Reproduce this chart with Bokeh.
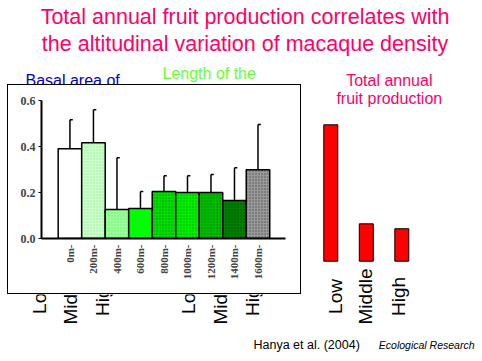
from math import pi
from bokeh.plotting import figure
from bokeh.models import Range1d, FixedTicker, ColumnDataSource, PrintfTickFormatter
from bokeh.layouts import column, row
from bokeh.embed import file_html
from bokeh.resources import INLINE
from bokeh.core.properties import value

# ---------------- data ----------------
altitudes = ["0m-", "200m-", "400m-", "600m-", "800m-", "1000m-", "1200m-", "1400m-", "1600m-"]
basal_mean = [0.390, 0.416, 0.126, 0.130, 0.204, 0.200, 0.200, 0.165, 0.299]
basal_sd = [0.126, 0.144, 0.225, 0.074, 0.069, 0.073, 0.078, 0.143, 0.197]
y_ticks = [0.0, 0.2, 0.4, 0.6]
zones = ["Low", "Middle", "High"]
fruit = [1.00, 0.274, 0.238]

title_lines = ["Total annual fruit production correlates with",
               "the altitudinal variation of macaque density"]
panel_titles = ["Basal area of", "Length of the"]
fruit_title = ["Total annual", "fruit production"]
citation = "Hanya et al. (2004)"
journal = "Ecological Research"

# ---------------- styles ----------------
PINK = "#FF0066"
SANS = value("Liberation Sans")
SERIF = "Liberation Serif"
bar_fill = ["#FFFFFF", "#CCFFCC", "#99FF99", "#00FF00", "#00DD00",
            "#00EE00", "#00BB00", "#008000", "#999999"]
bar_hatch = [" ", ".", ".", " ", ".", ".", ".", ".", "."]
bar_hatch_col = ["#FFFFFF", "#99EE99", "#77EE77", "#00FF00", "#009900",
                 "#00AA00", "#008800", "#005000", "#555555"]


def canvas(w, h):
    f = figure(width=w, height=h, x_range=Range1d(0, w), y_range=Range1d(h, 0),
               min_border=0, x_axis_type=None, y_axis_type=None,
               toolbar_location=None, output_backend="svg",
               outline_line_color=None, background_fill_color="white",
               border_fill_color="white")
    f.grid.visible = False
    return f


def blackline(w, h):
    f = figure(width=w, height=h, min_border=0, x_axis_type=None, y_axis_type=None,
               toolbar_location=None, output_backend="svg", outline_line_color=None,
               background_fill_color="black", border_fill_color="black",
               styles={"background-color": "black"})
    f.grid.visible = False
    return f


# ---------------- title (y 0..62) ----------------
title_fig = canvas(482, 63)
title_fig.text(x=[244.5, 244.5], y=[16.8, 43], text=title_lines,
               text_align="center", text_baseline="middle",
               text_font=SANS, text_font_size="21.5px", text_color=PINK)

# ---------------- panel titles above box (y 63..83) ----------------
sub_top = canvas(301, 21)
sub_top.text(x=[25], y=[16.5], text=[panel_titles[0]], text_align="left",
             text_baseline="middle", text_font=SANS, text_font_size="16px",
             text_color="#0000CC")
sub_top.text(x=[162], y=[9.5], text=[panel_titles[1]], text_align="left",
             text_baseline="middle", text_font=SANS, text_font_size="16px",
             text_color="#66FF33")

# ---------------- inner bar chart (x 8..299, y 85..292) ----------------
n = len(altitudes)
xs = list(range(n))
upper = [m + s for m, s in zip(basal_mean, basal_sd)]
src = ColumnDataSource(dict(x=xs, top=basal_mean, upper=upper,
                            xc=[x + 0.12 for x in xs], fill=bar_fill,
                            hpat=bar_hatch, hcol=bar_hatch_col))

inner = figure(width=292, height=208, x_range=Range1d(-1.21, 9.17), y_range=Range1d(0, 0.6),
               min_border_left=33, min_border_right=15, min_border_top=15,
               min_border_bottom=55, toolbar_location=None, output_backend="svg",
               outline_line_color=None, background_fill_color="white",
               border_fill_color="white")
inner.grid.visible = False
inner.vbar(x="x", top="top", bottom=0, width=1, source=src, fill_color="fill",
           line_color="black", line_width=1.5, hatch_pattern="hpat",
           hatch_color="hcol", hatch_scale=3, hatch_weight=1)
inner.segment(x0="x", y0="top", x1="x", y1="upper", source=src,
              line_color="black", line_width=1.5)
inner.segment(x0="x", y0="upper", x1="xc", y1="upper", source=src,
              line_color="black", line_width=1.5)

ya = inner.yaxis[0]
ya.ticker = FixedTicker(ticks=y_ticks)
ya.formatter = PrintfTickFormatter(format="%.1f")
ya.axis_line_width = 2
ya.major_tick_out = 3
ya.major_tick_in = 0
ya.minor_tick_out = 0
ya.minor_tick_in = 0
ya.major_label_text_font = SERIF
ya.major_label_text_font_style = "bold"
ya.major_label_text_font_size = "12px"
ya.major_label_standoff = 3

xa = inner.xaxis[0]
xa.ticker = FixedTicker(ticks=xs)
xa.major_label_overrides = {i: lab for i, lab in zip(xs, altitudes)}
xa.major_label_orientation = pi / 2
xa.axis_line_width = 2
xa.major_tick_out = 0
xa.major_tick_in = 0
xa.minor_tick_out = 0
xa.minor_tick_in = 0
xa.major_label_text_font = SERIF
xa.major_label_text_font_style = "bold"
xa.major_label_text_font_size = "11px"
xa.major_label_standoff = 6

box = column(blackline(294, 1),
             row(blackline(1, 208), inner, blackline(1, 208)),
             blackline(294, 1))

# ---------------- zone labels below box (y 294..330) ----------------
sub_bot = canvas(301, 37)
sub_bot.text(x=[39, 70, 102, 187.5, 220, 252], y=[2] * 6, text=zones * 2,
             angle=pi / 2, text_align="center", text_baseline="middle",
             text_font=SANS, text_font_size="19px", text_color="black")

left_col = column(sub_top, row(canvas(7, 210), box), sub_bot)

# ---------------- fruit production bars (x 301..481, y 63..330) ----------------
right = figure(width=181, height=268, x_range=Range1d(-0.825, 4.273),
               y_range=Range1d(-0.5154, 1.4494), min_border=0,
               x_axis_type=None, y_axis_type=None, toolbar_location=None,
               output_backend="svg", outline_line_color=None,
               background_fill_color="white", border_fill_color="white")
right.grid.visible = False
right.extra_x_ranges = {"px": Range1d(0, 181)}
right.extra_y_ranges = {"px": Range1d(268, 0)}
right.vbar(x=list(range(len(zones))), top=fruit, bottom=0, width=0.394,
           fill_color="#FF0000", line_color="black", line_width=1)
right.text(x=[87.8, 87.8], y=[16.5, 34.5], text=fruit_title,
           x_range_name="px", y_range_name="px", text_align="center",
           text_baseline="middle", text_font=SANS, text_font_size="16px",
           text_color=PINK)
right.text(x=[33.5, 63.5, 96.5], y=[233] * 3, text=zones, angle=pi / 2,
           x_range_name="px", y_range_name="px", text_align="center",
           text_baseline="middle", text_font=SANS, text_font_size="19px",
           text_color="black")

# ---------------- footer (y 331..360) ----------------
footer = canvas(482, 30)
footer.text(x=[253], y=[13], text=[citation], text_align="left",
            text_baseline="middle", text_font=SANS, text_font_size="12.5px",
            text_color="black")
footer.text(x=[378.3], y=[13], text=[journal], text_align="left",
            text_baseline="middle", text_font=SANS, text_font_size="10.5px",
            text_font_style="italic", text_color="black")

page = column(title_fig, row(left_col, right), footer)

open("out.html", "w").write(file_html(page, INLINE))
